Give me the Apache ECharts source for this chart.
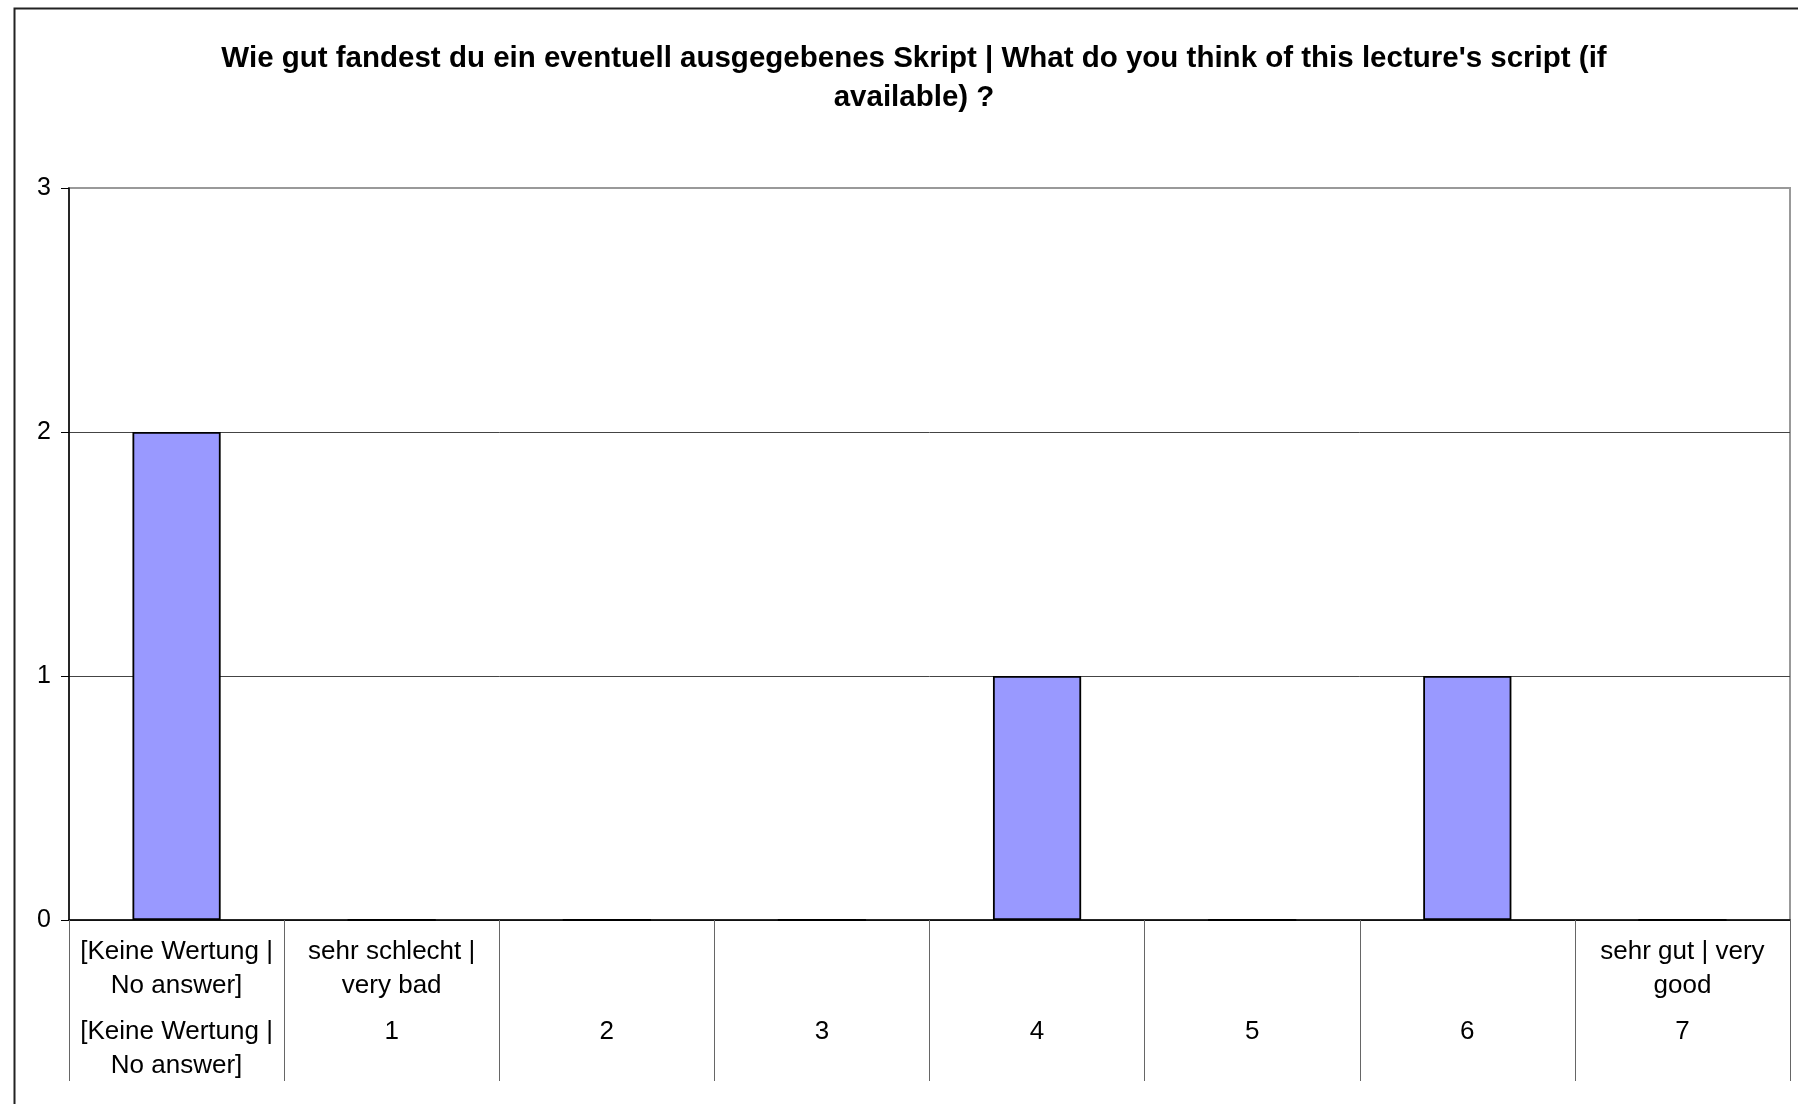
<!DOCTYPE html>
<html>
<head>
<meta charset="utf-8">
<title>Skript</title>
<script src="https://cdn.jsdelivr.net/npm/echarts@6/dist/echarts.min.js"></script>
<style>
	html, body { margin: 0; padding: 0; background: #fff; }
	#main { width: 1798px; height: 1104px; }
</style>
</head>
<body>
<div id="main"></div>
<script>
// categories: upper row (scale anchors) and lower row (scale values)
var topLabels = ['[Keine Wertung |\nNo answer]', 'sehr schlecht |\nvery bad', '', '', '', '', '', 'sehr gut | very\ngood']
var bottomLabels = ['[Keine Wertung |\nNo answer]', '1', '2', '3', '4', '5', '6', '7']
var counts = [2, 0, 0, 0, 1, 0, 1, 0]
var yTicks = [0, 1, 2, 3]

var titleText = "Wie gut fandest du ein eventuell ausgegebenes Skript | What do you think of this lecture's script (if\navailable) ?"

window.onload = function () {
	var ele = document.getElementById('main')
	var myChart = echarts.init(ele)

	function twoLines(s) {
		let parts = s.split('\n')
		while (parts.length < 2) parts.push(' ')
		return parts.map(p => '{a|' + (p || ' ') + '}').join('\n')
	}

	let options = {
		backgroundColor: '#fff',
		animation: false,
		title: {
			text: titleText,
			left: 914,
			textAlign: 'center',
			top: 39,
			padding: 0,
			textStyle: {
				fontFamily: 'Liberation Sans, Arial, sans-serif',
				fontWeight: 'bold',
				fontSize: 29.5,
				lineHeight: 39,
				color: '#000'
			}
		},
		graphic: [{
			type: 'rect',
			left: 12,
			top: 6,
			shape: { width: 1800, height: 1110 },
			style: { fill: 'none', stroke: '#222', lineWidth: 2 },
			silent: true
		}],
		grid: {
			left: 69,
			right: 8,
			top: 188,
			bottom: 184,
			show: true,
			borderColor: '#999',
			borderWidth: 2
		},
		xAxis: {
			type: 'category',
			data: bottomLabels,
			axisLine: { lineStyle: { color: '#000', width: 1.5 } },
			axisTick: {
				show: true,
				interval: 0,
				length: 161,
				lineStyle: { color: '#666', width: 1 }
			},
			axisLabel: {
				interval: 0,
				margin: 15,
				formatter: function (value, idx) {
					return twoLines(topLabels[idx]) + '\n{s| }\n' + twoLines(bottomLabels[idx])
				},
				rich: {
					a: {
						fontFamily: 'Liberation Sans, Arial, sans-serif',
						fontSize: 26,
						lineHeight: 34,
						color: '#000',
						align: 'center'
					},
					s: { fontSize: 2, lineHeight: 12 }
				}
			}
		},
		yAxis: {
			type: 'value',
			min: yTicks[0],
			max: yTicks[yTicks.length - 1],
			interval: 1,
			axisLine: { show: true, lineStyle: { color: '#000', width: 1.5 } },
			axisTick: { show: true, length: 8, lineStyle: { color: '#000' } },
			axisLabel: {
				margin: 18,
				fontFamily: 'Liberation Sans, Arial, sans-serif',
				fontSize: 25,
				color: '#000'
			},
			splitLine: {
				show: true,
				lineStyle: { color: ['#444', '#444', '#444', '#999'], width: 1 }
			}
		},
		series: [{
			type: 'bar',
			data: counts,
			barWidth: '41%',
			itemStyle: {
				color: '#9999ff',
				borderColor: '#000',
				borderWidth: 1.8
			}
		}]
	}
	myChart.setOption(options)
}
</script>
</body>
</html>
